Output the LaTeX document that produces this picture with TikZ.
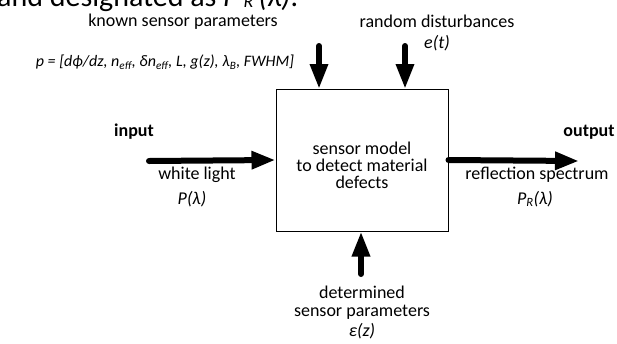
\documentclass[tikz,border=0pt]{standalone}
\usepackage{fontspec}
\setmainfont{Carlito}
\usetikzlibrary{arrows.meta}
\tikzset{
  lbl/.style={inner sep=0pt, font=\fontsize{18}{17}\selectfont, align=center},
  ilbl/.style={inner sep=0pt, font=\fontsize{18}{17}\selectfont\itshape, align=center},
  blbl/.style={inner sep=0pt, font=\fontsize{18}{17}\selectfont\bfseries, align=center},
  bigarrow/.style={line width=6pt, line cap=round, -{Triangle[length=24pt,width=17pt]}},
  varrow/.style={line width=6pt, line cap=round, -{Triangle[length=25pt,width=17pt]}},
  model/.style={draw, line width=1pt, minimum width=172pt, minimum height=142pt, inner sep=0pt}
}
\begin{document}
\begin{tikzpicture}[x=1pt,y=-1pt]
\useasboundingbox (0,0) rectangle (617,343);
\begin{scope}
\clip (0,0) rectangle (617,343);
\node[anchor=base west, inner sep=0pt, font=\fontsize{30}{34}\selectfont] (head) at (-3,6) {and designated as \textit{P}\,\raisebox{-1pt}{\fontsize{18}{20}\selectfont\textit{R}}\,\textit{(λ)}.};
\end{scope}
\node[model] (box) at (362,160) {};
\node[lbl] (modeltxt) at (362,165) {sensor model\\to detect material\\defects};
% top inputs
\coordinate (k0) at (319,46);
\coordinate (k1) at (319,89);
\coordinate (r0) at (405,46);
\coordinate (r1) at (405,89);
\draw[varrow] (k0) -- (k1);
\draw[varrow] (r0) -- (r1);
\node[lbl] (known) at (183,22) {known sensor parameters};
\node[ilbl, font=\fontsize{16}{17}\selectfont\itshape] (pvec) at (165,62) {p = [dϕ/dz, n\textsubscript{eff}, δn\textsubscript{eff}, L, g(z), λ\textsubscript{B}, FWHM]};
\node[lbl] (rand) at (437,21) {random disturbances};
\node[ilbl] (et) at (437,43) {e(t)};
% input
\coordinate (in0) at (149,161);
\draw[bigarrow] (in0) -- (box.west);
\node[blbl] (input) at (134,132) {input};
\node[lbl] (white) at (197,175) {white light};
\node[ilbl] (pl) at (192,199) {P(λ)};
% output
\coordinate (out1) at (579,161);
\draw[bigarrow] (box.east) -- (out1);
\node[blbl] (output) at (589,132) {output};
\node[lbl] (refl) at (537,175) {reflection spectrum};
\node[ilbl] (prl) at (535,199) {P\textsubscript{R}(λ)};
% bottom
\coordinate (d0) at (361,274);
\draw[varrow] (d0) -- (box.south -| d0);
\node[lbl] (det) at (362,292) {determined};
\node[lbl] (sp) at (362,312) {sensor parameters};
\node[ilbl] (ez) at (362,331) {ε(z)};
\end{tikzpicture}
\end{document}
